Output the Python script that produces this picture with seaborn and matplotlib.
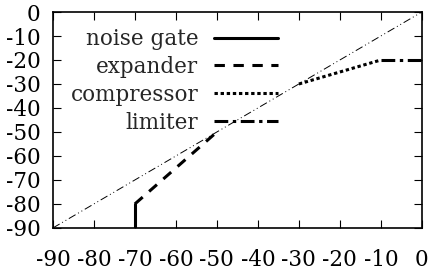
import numpy as np
import pandas as pd
import seaborn as sns
import matplotlib
matplotlib.use("Agg")
import matplotlib.pyplot as plt

# transfer curve segments (input dB -> output dB)
gate_x = [-70, -70]
gate_y = [-90, -80]
exp_x = [-70, -50]
exp_y = [-80, -50]
comp_x = [-30, -10]
comp_y = [-30, -20]
lim_x = [-10, 0]
lim_y = [-20, -20]
diag_x = [-90, 0]
diag_y = [-90, 0]
ticks = list(range(-90, 1, 10))

sns.set_theme(style="ticks")
plt.rcParams['font.family'] = ['DejaVu Serif']

fig = plt.figure(figsize=(4.3, 2.73), dpi=100)
ax = fig.add_axes([0.123, 0.165, 0.858, 0.791])

kw = dict(ax=ax, color='black', sort=False, estimator=None)
sns.lineplot(x=diag_x, y=diag_y, linewidth=0.7,
             linestyle=(0, (8, 3, 1, 3, 1, 3)), **kw)
sns.lineplot(x=gate_x, y=gate_y, linewidth=2.2, linestyle='-',
             label='noise gate', **kw)
sns.lineplot(x=exp_x, y=exp_y, linewidth=2.2, linestyle=(0, (3.4, 2.8)),
             label='expander', **kw)
sns.lineplot(x=comp_x, y=comp_y, linewidth=2.2, linestyle=(0, (1.1, 0.9)),
             label='compressor', **kw)
sns.lineplot(x=lim_x, y=lim_y, linewidth=2.2, linestyle=(0, (4.5, 1.5, 1.1, 1.5)),
             label='limiter', **kw)

ax.set_xlim(-90, 0)
ax.set_ylim(-90, 0)
ax.set_xticks(ticks)
ax.set_yticks(ticks)
ax.set_xticklabels([str(t) for t in ticks])
ax.set_yticklabels([str(t) for t in ticks])
for s in ax.spines.values():
    s.set_visible(True)
    s.set_linewidth(1.2)
    s.set_color('black')
ax.tick_params(direction='in', length=6, width=0.8, top=True, right=True,
               labelsize=15.5, colors='black')
ax.tick_params(axis='x', pad=15)
ax.tick_params(axis='y', pad=9)

ax.legend(loc='upper left', bbox_to_anchor=(0.025, 0.965), frameon=False,
          markerfirst=False, fontsize=15.5, handlelength=3.0, handletextpad=0.7,
          labelspacing=0.27, borderaxespad=0.0)

fig.savefig('out.png', dpi=100)
